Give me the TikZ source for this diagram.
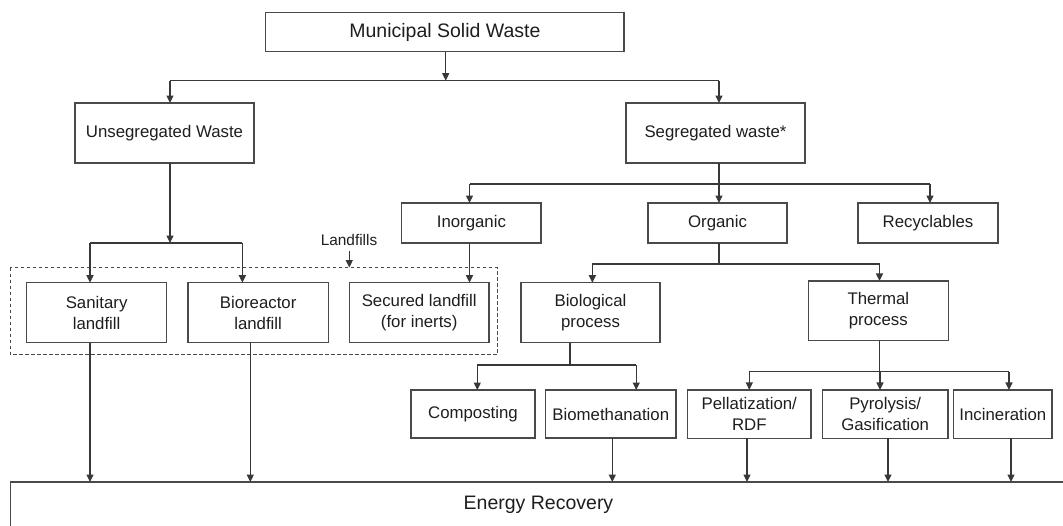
\documentclass[tikz,border=0pt]{standalone}
\usepackage{fontspec}
\setmainfont{Liberation Sans}
\usetikzlibrary{arrows.meta}
\definecolor{linec}{HTML}{383838}
\definecolor{boxc}{HTML}{4A4A4A}
\definecolor{textc}{HTML}{1E1E1E}
\newcommand{\bodysize}{\fontsize{16.8pt}{20.7pt}\selectfont}
\newcommand{\headsize}{\fontsize{19.5pt}{23pt}\selectfont}
\newcommand{\notesize}{\fontsize{15.4pt}{18pt}\selectfont}
\tikzset{
  box/.style={draw=boxc, line width=1.3pt, fill=white, inner sep=0pt, outer sep=0pt,
              align=center, font=\bodysize, text=textc},
  ln/.style={draw=linec, line width=1.3pt},
  arr/.style={ln, -{Triangle[length=7.5pt,width=7pt]}},
  group/.style={draw=boxc, line width=1.2pt, dash pattern=on 3.5pt off 2.5pt}
}
\begin{document}
\begin{tikzpicture}[x=1pt,y=-1pt]
\useasboundingbox (0,0) rectangle (1063,525);

% dashed group of landfill options
\draw[group] (10.3,267.5) rectangle (497.3,354.5);

% boxes
\node[box, font=\headsize, minimum width=358.3pt, minimum height=39.4pt] (msw) at (444.9,32) {Municipal Solid Waste};
\node[box, minimum width=179pt, minimum height=60pt] (unseg) at (164.5,133) {Unsegregated Waste};
\node[box, minimum width=179pt, minimum height=60pt] (seg) at (715.5,133) {Segregated waste*};
\node[box, minimum width=139.3pt, minimum height=40pt] (inorg) at (471.4,223) {Inorganic};
\node[box, minimum width=139pt, minimum height=40pt] (org) at (717.5,223) {Organic};
\node[box, minimum width=140pt, minimum height=40pt] (recyc) at (928,223) {Recyclables};

\node[box, minimum width=140pt, minimum height=60pt] (san) at (96.6,312.7) {Sanitary\\landfill};
\node[box, minimum width=140.3pt, minimum height=60pt] (bior) at (258.1,312.7) {Bioreactor\\landfill};
\node[box, minimum width=139.7pt, minimum height=60pt] (secl) at (419.2,312.7) {Secured landfill\\(for inerts)};
\node[box, minimum width=139pt, minimum height=60pt] (biol) at (590.5,312.7) {Biological\\process};
\node[box, minimum width=140pt, minimum height=59.7pt] (therm) at (878.3,310.8) {Thermal\\process};

\node[box, minimum width=124pt, minimum height=48pt] (comp) at (473,414) {Composting};
\node[box, minimum width=130.2pt, minimum height=48pt] (biom) at (610.8,414) {Biomethanation};
\node[box, minimum width=123.4pt, minimum height=48.5pt] (pell) at (749.3,414.2) {Pellatization/\\RDF};
\node[box, minimum width=125.6pt, minimum height=48.5pt] (pyro) at (885.2,414.2) {Pyrolysis/\\Gasification};
\node[box, minimum width=98.3pt, minimum height=48.5pt] (inci) at (1002.9,414.2) {Incineration};

\node[box, minimum width=1055.3pt, minimum height=46pt, anchor=north west] (energy) at (10.7,482) {};
\node[font=\headsize, text=textc] (energytxt) at (538.5,505) {Energy Recovery};

\node[font=\notesize, text=textc, inner sep=0pt] (lf) at (349,239.5) {Landfills};
\coordinate (lfarrow) at (349.3,251);

% horizontal branch lines
\coordinate (b1) at (0,80.7);
\coordinate (b2) at (0,184);
\coordinate (b3) at (0,243);
\coordinate (b4) at (0,264);
\coordinate (b5) at (0,365);
\coordinate (b6) at (0,371.7);
\coordinate (gtop) at (0,267.5);

% column positions of the vertical connectors
\coordinate (xM) at (445.7,0);
\coordinate (xU) at (170,0);
\coordinate (xS) at (719,0);
\coordinate (xI) at (469.5,0);
\coordinate (xO) at (719,0);
\coordinate (xR) at (930,0);
\coordinate (xSa) at (90,0);
\coordinate (xBi) at (242.4,0);
\coordinate (xBo) at (250.3,0);
\coordinate (xBl) at (592.4,0);
\coordinate (xBd) at (570,0);
\coordinate (xT) at (879.5,0);
\coordinate (xC) at (477.3,0);
\coordinate (xBm) at (636.2,0);
\coordinate (xBe) at (612.3,0);
\coordinate (xPi) at (749.3,0);
\coordinate (xPo) at (747,0);
\coordinate (xYi) at (880,0);
\coordinate (xYo) at (888,0);
\coordinate (xNi) at (1009,0);
\coordinate (xNo) at (1011,0);

% Municipal Solid Waste split
\draw[arr] (xM |- msw.south) -- (xM |- b1);
\draw[ln] (xU |- b1) -- (xS |- b1);
\draw[arr] (xU |- b1) -- (xU |- unseg.north);
\draw[arr] (xS |- b1) -- (xS |- seg.north);

% segregated waste split
\draw[ln] (xS |- seg.south) -- (xS |- b2);
\draw[ln] (xI |- b2) -- (xR |- b2);
\draw[arr] (xI |- b2) -- (xI |- inorg.north);
\draw[arr] (xO |- b2) -- (xO |- org.north);
\draw[arr] (xR |- b2) -- (xR |- recyc.north);

% unsegregated waste to landfills
\draw[arr] (xU |- unseg.south) -- (xU |- b3);
\draw[ln] (xSa |- b3) -- (xBi |- b3);
\draw[arr] (xSa |- b3) -- (xSa |- san.north);
\draw[arr] (xBi |- b3) -- (xBi |- bior.north);
\draw[arr] (xI |- inorg.south) -- (xI |- secl.north);
\draw[arr] (lfarrow) -- (lfarrow |- gtop);

% organic split
\draw[ln] (xO |- org.south) -- (xO |- b4);
\draw[ln] (xBl |- b4) -- (xT |- b4);
\draw[arr] (xBl |- b4) -- (xBl |- biol.north);
\draw[arr] (xT |- b4) -- (xT |- therm.north);

% biological process split
\draw[ln] (xBd |- biol.south) -- (xBd |- b5);
\draw[ln] (xC |- b5) -- (xBm |- b5);
\draw[arr] (xC |- b5) -- (xC |- comp.north);
\draw[arr] (xBm |- b5) -- (xBm |- biom.north);

% thermal process split
\draw[ln] (xT |- therm.south) -- (xT |- b6);
\draw[ln] (xPi |- b6) -- (xNi |- b6);
\draw[arr] (xPi |- b6) -- (xPi |- pell.north);
\draw[arr] (xYi |- b6) -- (xYi |- pyro.north);
\draw[arr] (xNi |- b6) -- (xNi |- inci.north);

% routes to energy recovery
\draw[arr] (xSa |- san.south) -- (xSa |- energy.north);
\draw[arr] (xBo |- bior.south) -- (xBo |- energy.north);
\draw[arr] (xBe |- biom.south) -- (xBe |- energy.north);
\draw[arr] (xPo |- pell.south) -- (xPo |- energy.north);
\draw[arr] (xYo |- pyro.south) -- (xYo |- energy.north);
\draw[arr] (xNo |- inci.south) -- (xNo |- energy.north);
\end{tikzpicture}
\end{document}
